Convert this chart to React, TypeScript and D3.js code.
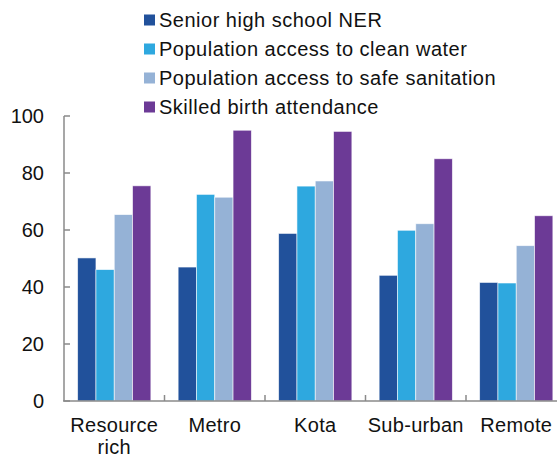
import React, { useEffect, useRef } from "react";
import * as d3 from "d3";

const categories = ["Resource rich", "Metro", "Kota", "Sub-urban", "Remote"];
const seriesNames = [
  "Senior high school NER",
  "Population access to clean water",
  "Population access to safe sanitation",
  "Skilled birth attendance",
];
const seniorHighNER = [50.2, 47, 58.8, 44.1, 41.6];
const cleanWater = [46.1, 72.5, 75.4, 59.9, 41.4];
const safeSanitation = [65.4, 71.5, 77.2, 62.2, 54.5];
const skilledBirth = [75.5, 95, 94.6, 85, 65];
const yTicks = [0, 20, 40, 60, 80, 100];
const colors = ["#21519b", "#2ea8df", "#95b2d6", "#6c3a96"];

const W = 557;
const H = 458;

export default function App() {
  const ref = useRef<SVGSVGElement>(null);
  useEffect(() => {
    document.body.style.margin = "0";
    const svg = d3.select(ref.current);
    svg.selectAll("*").remove();
    const font = "Liberation Sans, Arial, sans-serif";
    const fs = 20;
    const data = [seniorHighNER, cleanWater, safeSanitation, skilledBirth];

    const x0 = d3.scaleBand<string>().domain(categories).range([64, 566.5]).padding(0);
    const x1 = d3
      .scaleBand<string>()
      .domain(seriesNames)
      .range([0, x0.bandwidth()])
      .paddingInner(0)
      .paddingOuter(0.745);
    const y = d3.scaleLinear().domain([0, 100]).range([401, 116]);

    // bars
    categories.forEach((c, ci) => {
      seriesNames.forEach((s, si) => {
        const v = data[si][ci];
        svg
          .append("rect")
          .attr("x", (x0(c) as number) + (x1(s) as number))
          .attr("y", y(v))
          .attr("width", x1.bandwidth())
          .attr("height", y(0) - y(v))
          .attr("fill", colors[si])
          .attr("stroke", "rgba(255,255,255,0.7)")
          .attr("stroke-width", 0.8);
      });
    });

    const axisColor = "#8a8a8a";
    svg
      .append("line")
      .attr("x1", 64)
      .attr("x2", 64)
      .attr("y1", y(100))
      .attr("y2", y(0))
      .attr("stroke", axisColor)
      .attr("stroke-width", 1.5);
    yTicks.forEach((t) => {
      svg
        .append("line")
        .attr("x1", 64)
        .attr("x2", 70)
        .attr("y1", y(t))
        .attr("y2", y(t))
        .attr("stroke", axisColor)
        .attr("stroke-width", 1.5);
      svg
        .append("text")
        .attr("x", 44)
        .attr("y", y(t))
        .attr("dy", "0.35em")
        .attr("text-anchor", "end")
        .attr("font-family", font)
        .attr("font-size", fs)
        .attr("fill", "#111")
        .text(String(t));
    });
    svg
      .append("line")
      .attr("x1", 63)
      .attr("x2", W)
      .attr("y1", y(0))
      .attr("y2", y(0))
      .attr("stroke", axisColor)
      .attr("stroke-width", 1.5);
    categories.forEach((c, i) => {
      if (i === 0) return;
      const xx = x0(c) as number;
      svg
        .append("line")
        .attr("x1", xx)
        .attr("x2", xx)
        .attr("y1", y(0))
        .attr("y2", y(0) - 6)
        .attr("stroke", axisColor)
        .attr("stroke-width", 1.5);
    });
    categories.forEach((c) => {
      const cx = (x0(c) as number) + x0.bandwidth() / 2;
      const words = c === "Resource rich" ? ["Resource", "rich"] : [c];
      words.forEach((w, wi) => {
        svg
          .append("text")
          .attr("x", cx)
          .attr("y", 431.5 + wi * 22.2)
          .attr("text-anchor", "middle")
          .attr("font-family", font)
          .attr("font-size", fs)
          .attr("letter-spacing", 0.3)
          .attr("fill", "#111")
          .text(w);
      });
    });

    // legend
    seriesNames.forEach((s, i) => {
      const by = 27 + i * 29;
      svg
        .append("rect")
        .attr("x", 144)
        .attr("y", by - 12.5)
        .attr("width", 11)
        .attr("height", 11)
        .attr("fill", colors[i]);
      svg
        .append("text")
        .attr("x", 159)
        .attr("y", by)
        .attr("font-family", font)
        .attr("font-size", fs)
        .attr("letter-spacing", 0.5)
        .attr("fill", "#111")
        .text(s);
    });
  }, []);
  return (
    <svg
      ref={ref}
      width={W}
      height={H}
      style={{ display: "block", position: "absolute", left: 0, top: 0, background: "#fff" }}
    />
  );
}
